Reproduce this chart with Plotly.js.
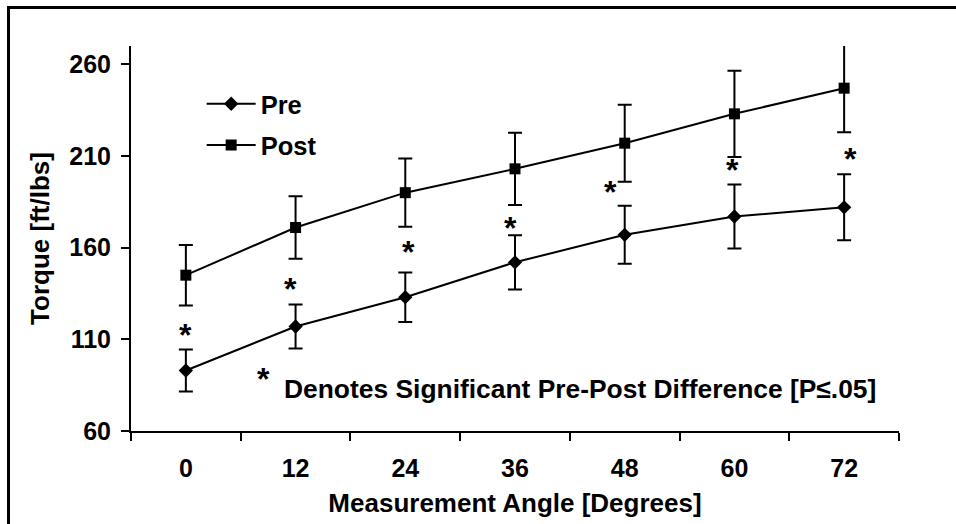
<!DOCTYPE html>
<html>
<head>
<meta charset="utf-8">
<script src="https://cdn.plot.ly/plotly-3.0.1.min.js"></script>
<style>
  html, body { margin: 0; padding: 0; background: #fff; }
  #wrap { position: relative; width: 956px; height: 524px; overflow: hidden; }
  #frame { position: absolute; left: 7px; top: 6px; width: 960px; height: 530px;
           border-left: 3px solid #000; border-top: 3px solid #000; pointer-events: none; z-index: 5; }
  #chart { position: absolute; left: 0; top: 0; width: 956px; height: 524px; }
</style>
</head>
<body>
<div id="wrap">
  <div id="chart"></div>
  <div id="frame"></div>
</div>
<script>
// ---- data ----
const angles   = ['0', '12', '24', '36', '48', '60', '72'];
const preMean  = [93, 117, 133, 152, 167, 177, 182];
const preErr   = [11.5, 12, 13.5, 14.8, 15.8, 17.5, 18];
const postMean = [145, 171, 190, 203, 217, 233, 247];
const postErr  = [16.5, 17.1, 18.6, 19.7, 21, 23.5, 24];
const starAngle = ['0', '12', '24', '36', '48', '60', '72'];
const starLevel = [115, 140, 160, 173, 193, 205, 211];
const noteText = 'Denotes Significant Pre-Post Difference [P\u2264.05]';
const yTickVals = [60, 110, 160, 210, 260];

// ---- layout tweaks (pixels) ----
const starShiftX = [0, -5, 3, -5, -14, -2, 6];

const FONT = 'Liberation Sans, Arial, sans-serif';

const common = {
  type: 'scatter', mode: 'lines+markers', x: angles,
  line: { color: '#000', width: 2 },
  cliponaxis: false
};

const tracePre = Object.assign({}, common, {
  name: 'Pre', y: preMean, legendgroup: 'a',
  marker: { symbol: 'diamond', size: 11, color: '#000' },
  error_y: { type: 'data', array: preErr, visible: true, color: '#000', thickness: 2, width: 7 }
});
const tracePost = Object.assign({}, common, {
  name: 'Post', y: postMean, legendgroup: 'b',
  marker: { symbol: 'square', size: 11, color: '#000' },
  error_y: { type: 'data', array: postErr, visible: true, color: '#000', thickness: 2, width: 7 }
});

const annotations = starAngle.map((a, i) => ({
  x: angles.indexOf(a), y: starLevel[i], xref: 'x', yref: 'y', text: '*', showarrow: false,
  xanchor: 'center', yanchor: 'middle', xshift: starShiftX[i], yshift: -4.5,
  font: { family: FONT, size: 32, color: '#000', weight: 'bold' }
}));
annotations.push({
  x: 0.172, y: 0.145, xref: 'paper', yref: 'paper', text: '*', showarrow: false,
  xanchor: 'center', yanchor: 'middle', yshift: -4,
  font: { family: FONT, size: 32, color: '#000', weight: 'bold' }
});
annotations.push({
  x: 0.196, y: 0.108, xref: 'paper', yref: 'paper', text: noteText, showarrow: false,
  xanchor: 'left', yanchor: 'middle',
  font: { family: FONT, size: 26.4, color: '#000', weight: 'bold' }
});

const layout = {
  width: 956, height: 524,
  margin: { l: 131, r: 57, t: 46, b: 93 },
  paper_bgcolor: '#fff', plot_bgcolor: '#fff',
  font: { family: FONT, color: '#000', weight: 'bold' },
  showlegend: true,
  legend: {
    x: 0.092, y: 0.91, xanchor: 'left', yanchor: 'top',
    bgcolor: 'rgba(0,0,0,0)', traceorder: 'grouped', tracegroupgap: 5, itemwidth: 49,
    font: { family: FONT, size: 25.5, color: '#000', weight: 'bold' }
  },
  xaxis: {
    type: 'category', range: [-0.5, 6.5],
    showline: true, linecolor: '#000', linewidth: 2,
    ticks: 'outside', tickson: 'boundaries', ticklen: 8, tickwidth: 2, tickcolor: '#000',
    ticklabelstandoff: 14,
    showgrid: false, zeroline: false,
    tickfont: { family: FONT, size: 25, color: '#000', weight: 'bold' },
    title: { text: 'Measurement Angle [Degrees]', standoff: 13,
             font: { family: FONT, size: 26, color: '#000', weight: 'bold' } }
  },
  yaxis: {
    range: [60, 270], tickmode: 'array', tickvals: yTickVals,
    showline: true, linecolor: '#000', linewidth: 2,
    ticks: 'outside', ticklen: 8, tickwidth: 2, tickcolor: '#000',
    ticklabelstandoff: 5,
    showgrid: false, zeroline: false,
    tickfont: { family: FONT, size: 25, color: '#000', weight: 'bold' },
    title: { text: 'Torque [ft/lbs]', standoff: 12,
             font: { family: FONT, size: 26, color: '#000', weight: 'bold' } }
  },
  annotations: annotations
};

Plotly.newPlot('chart', [tracePre, tracePost], layout, { displayModeBar: false, staticPlot: true });
</script>
</body>
</html>
